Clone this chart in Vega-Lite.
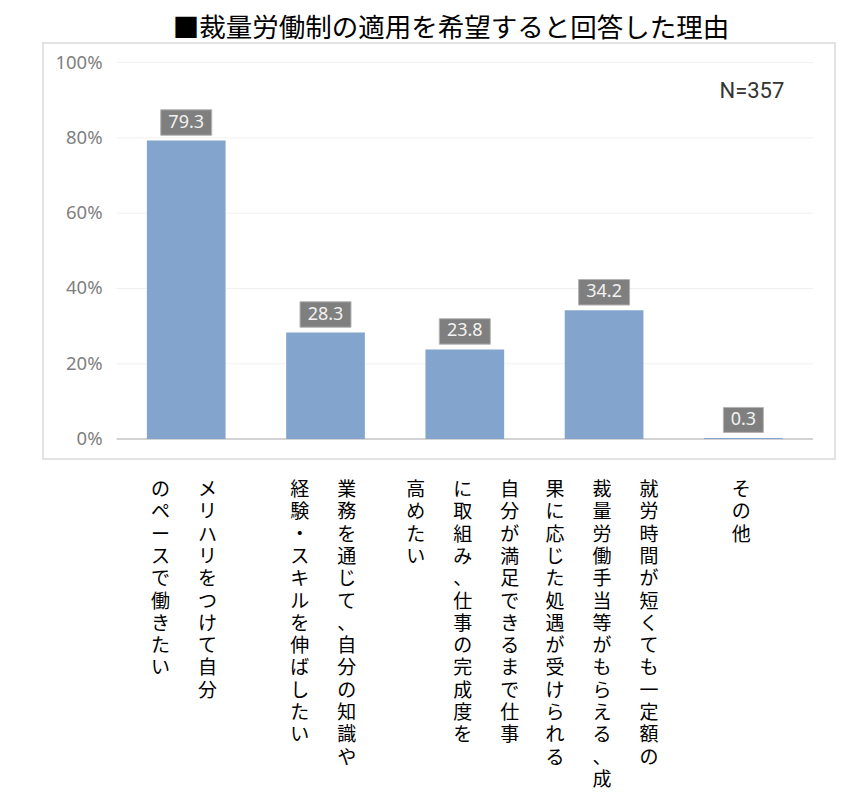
{
  "$schema": "https://vega.github.io/schema/vega-lite/v6.json",
  "description": "Reasons for wanting the discretionary work system (N=357)",
  "width": 792,
  "height": 416,
  "padding": {"left": 43, "top": 15, "right": 12, "bottom": 5},
  "title": {
    "text": "■裁量労働制の適用を希望すると回答した理由",
    "font": "Noto Sans CJK JP",
    "fontSize": 26.5,
    "fontWeight": "normal",
    "color": "#000000",
    "anchor": "middle",
    "baseline": "bottom",
    "frame": "group",
    "dx": 12,
    "offset": -26
  },
  "datasets": {
    "bars": [
      {"cat": "メリハリをつけて自分のペースで働きたい", "value": 79.3},
      {"cat": "業務を通じて、自分の知識や経験・スキルを伸ばしたい", "value": 28.3},
      {"cat": "自分が満足できるまで仕事に取組み、仕事の完成度を高めたい", "value": 23.8},
      {"cat": "就労時間が短くても一定額の裁量労働手当等がもらえる、成果に応じた処遇が受けられる", "value": 34.2},
      {"cat": "その他", "value": 0.3}
    ],
    "cols": [
      {"cat": "メリハリをつけて自分のペースで働きたい", "t": "メリハリをつけて自分"},
      {"cat": "メリハリをつけて自分のペースで働きたい", "t": "のペースで働きたい"},
      {"cat": "業務を通じて、自分の知識や経験・スキルを伸ばしたい", "t": "業務を通じて、自分の知識や"},
      {"cat": "業務を通じて、自分の知識や経験・スキルを伸ばしたい", "t": "経験・スキルを伸ばしたい"},
      {"cat": "自分が満足できるまで仕事に取組み、仕事の完成度を高めたい", "t": "自分が満足できるまで仕事"},
      {"cat": "自分が満足できるまで仕事に取組み、仕事の完成度を高めたい", "t": "に取組み、仕事の完成度を"},
      {"cat": "自分が満足できるまで仕事に取組み、仕事の完成度を高めたい", "t": "高めたい"},
      {"cat": "就労時間が短くても一定額の裁量労働手当等がもらえる、成果に応じた処遇が受けられる", "t": "就労時間が短くても一定額の"},
      {"cat": "就労時間が短くても一定額の裁量労働手当等がもらえる、成果に応じた処遇が受けられる", "t": "裁量労働手当等がもらえる、成"},
      {"cat": "就労時間が短くても一定額の裁量労働手当等がもらえる、成果に応じた処遇が受けられる", "t": "果に応じた処遇が受けられる"},
      {"cat": "その他", "t": "その他"}
    ],
    "grid": [{"v": 0}, {"v": 20}, {"v": 40}, {"v": 60}, {"v": 80}, {"v": 100}],
    "note": [{"t": "N=357"}]
  },
  "layer": [
    {
      "data": {"name": "grid"},
      "mark": {"type": "rule"},
      "encoding": {
        "x": {
          "datum": "メリハリをつけて自分のペースで働きたい",
          "type": "nominal",
          "bandPosition": 0,
          "scale": {
            "domain": [
              "メリハリをつけて自分のペースで働きたい",
              "業務を通じて、自分の知識や経験・スキルを伸ばしたい",
              "自分が満足できるまで仕事に取組み、仕事の完成度を高めたい",
              "就労時間が短くても一定額の裁量労働手当等がもらえる、成果に応じた処遇が受けられる",
              "その他"
            ],
            "paddingInner": 0,
            "paddingOuter": 0.343,
            "align": 0.77
          },
          "axis": null
        },
        "x2": {"datum": "その他", "bandPosition": 1},
        "y": {
          "field": "v",
          "type": "quantitative",
          "scale": {"domain": [-5.3, 105.2], "nice": false, "zero": false},
          "axis": null
        },
        "color": {"condition": {"test": "datum.v === 0", "value": "#c4c4c4"}, "value": "#f0f0f0"},
        "strokeWidth": {"condition": {"test": "datum.v === 0", "value": 1.5}, "value": 1}
      }
    },
    {
      "data": {"name": "grid"},
      "transform": [{"calculate": "datum.v + '%'", "as": "lab"}],
      "mark": {
        "type": "text",
        "align": "right",
        "baseline": "middle",
        "dx": -14,
        "font": "Noto Sans",
        "fontSize": 18.5,
        "color": "#7f7f7f"
      },
      "encoding": {
        "x": {"datum": "メリハリをつけて自分のペースで働きたい", "type": "nominal", "bandPosition": 0, "axis": null},
        "y": {"field": "v", "type": "quantitative", "axis": null},
        "text": {"field": "lab", "type": "nominal"}
      }
    },
    {
      "data": {"name": "bars"},
      "mark": {"type": "bar", "width": {"band": 0.565}, "color": "#82A4CD"},
      "encoding": {
        "x": {"field": "cat", "type": "nominal", "axis": null},
        "y": {"field": "value", "type": "quantitative", "axis": null}
      }
    },
    {
      "data": {"name": "bars"},
      "mark": {
        "type": "point",
        "filled": true,
        "size": 4,
        "yOffset": -18,
        "fill": "#7f7f7f",
        "stroke": "#b4b4b4",
        "strokeWidth": 1,
        "opacity": 1
      },
      "encoding": {
        "x": {"field": "cat", "type": "nominal", "axis": null},
        "y": {"field": "value", "type": "quantitative", "axis": null},
        "shape": {
          "condition": {"test": "datum.value < 10", "value": "M-20,-12.5H20V12.5H-20Z"},
          "value": "M-25.5,-12.75H25.5V12.75H-25.5Z"
        }
      }
    },
    {
      "data": {"name": "bars"},
      "mark": {
        "type": "text",
        "dy": -18,
        "baseline": "middle",
        "align": "center",
        "font": "Noto Sans",
        "fontSize": 18,
        "color": "#f2f2f2"
      },
      "encoding": {
        "x": {"field": "cat", "type": "nominal", "axis": null},
        "y": {"field": "value", "type": "quantitative", "axis": null},
        "text": {"field": "value", "type": "quantitative", "format": ".1f"}
      }
    },
    {
      "data": {"name": "cols"},
      "transform": [
        {"window": [{"op": "row_number", "as": "i"}], "groupby": ["cat"]},
        {"joinaggregate": [{"op": "count", "as": "n"}], "groupby": ["cat"]},
        {"calculate": "(datum.n - 1) / 2 - (datum.i - 1)", "as": "k"},
        {"calculate": "join(split(datum.t, ''), '\\n')", "as": "vt"}
      ],
      "mark": {
        "type": "text",
        "baseline": "top",
        "align": "center",
        "lineBreak": "\n",
        "lineHeight": 22.3,
        "font": "Noto Sans CJK JP",
        "fontSize": 19,
        "color": "#000000",
        "dy": 42
      },
      "encoding": {
        "x": {"field": "cat", "type": "nominal", "axis": null},
        "xOffset": {"field": "k", "type": "quantitative", "scale": {"domain": [-1, 1], "range": [20.5, 114.5]}},
        "y": {"datum": 0, "type": "quantitative", "axis": null},
        "text": {"field": "vt", "type": "nominal"}
      }
    },
    {
      "data": {"name": "note"},
      "mark": {
        "type": "text",
        "align": "center",
        "baseline": "alphabetic",
        "font": "Roboto",
        "fontSize": 22,
        "color": "#333333",
        "dx": 8.5
      },
      "encoding": {
        "x": {"datum": "その他", "type": "nominal", "axis": null},
        "y": {"datum": 90.5, "type": "quantitative", "axis": null},
        "text": {"field": "t", "type": "nominal"}
      }
    }
  ],
  "resolve": {"scale": {"xOffset": "independent"}},
  "config": {
    "view": {"stroke": "#d9d9d9", "strokeWidth": 1.5}
  }
}
